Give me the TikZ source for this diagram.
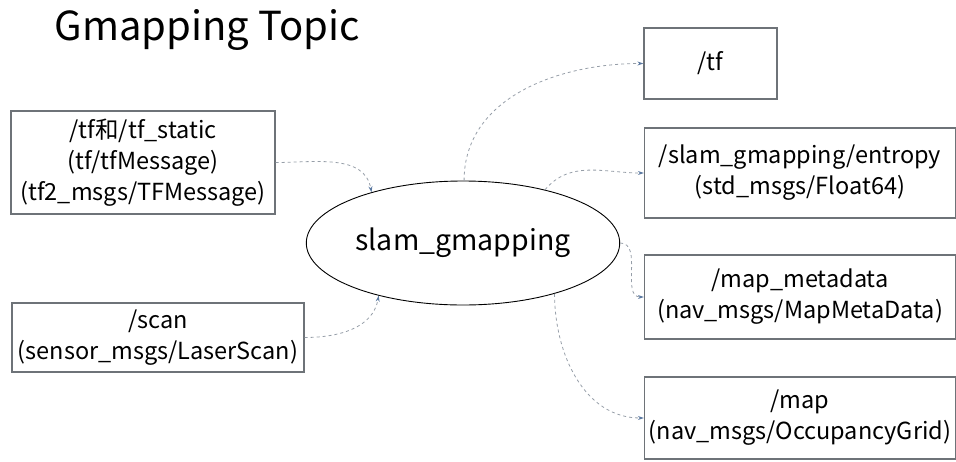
\documentclass[tikz,border=0pt]{standalone}
\usepackage{fontspec}
\setmainfont{Noto Sans CJK SC}
\usetikzlibrary{arrows.meta, positioning, shapes.geometric}

\definecolor{boxline}{RGB}{110,115,120}
\definecolor{arrline}{RGB}{150,158,168}
\definecolor{arrtip}{RGB}{90,120,160}

\begin{document}
\begin{tikzpicture}[
    x=1pt, y=-1pt,
    topic/.style={draw=boxline, line width=1.2pt, rectangle, align=center,
        font=\fontsize{23.5}{31}\selectfont, inner sep=0pt},
    arr/.style={color=arrline, line width=0.8pt, dashed,
        -{Stealth[length=6pt, width=4pt, color=arrtip]}}
]
\useasboundingbox (0,0) rectangle (956,461);

\node[anchor=base west, font=\fontsize{40}{42}\selectfont] (title) at (51,40) {Gmapping Topic};

\node[draw, line width=0.9pt, ellipse, minimum width=250, minimum height=124,
    font=\fontsize{28.5}{30}\selectfont] (slam) at (463,243) {slam\_gmapping};

\node[topic, minimum width=264, minimum height=103] (tfs) at (143,162.5)
    {/tf和/tf\_static\\(tf/tfMessage)\\(tf2\_msgs/TFMessage)};
\node[topic, minimum width=292, minimum height=69] (scan) at (158,337.5)
    {/scan\\(sensor\_msgs/LaserScan)};

\node[topic, minimum width=133, minimum height=71] (tf) at (710.5,63.5) {/tf};
\node[topic, minimum width=311, minimum height=90] (entropy) at (800,173)
    {/slam\_gmapping/entropy\\(std\_msgs/Float64)};
\node[topic, minimum width=311, minimum height=84] (meta) at (800,297)
    {/map\_metadata\\(nav\_msgs/MapMetaData)};
\node[topic, minimum width=311, minimum height=82] (map) at (800,418)
    {/map\\(nav\_msgs/OccupancyGrid)};

\path[arr]
    (tfs.east) edge [out=0, in=100] (slam.151)
    (scan.east) edge [out=0, in=-100] (slam.212)
    (slam.89) edge [out=90, in=180] (tf.west)
    (slam.33) edge [out=50, in=180] (entropy.west)
    (slam.east) edge [out=0, in=180] (meta.west)
    (slam.-29) edge [out=-90, in=180] (map.west)
    ;

\end{tikzpicture}
\end{document}
